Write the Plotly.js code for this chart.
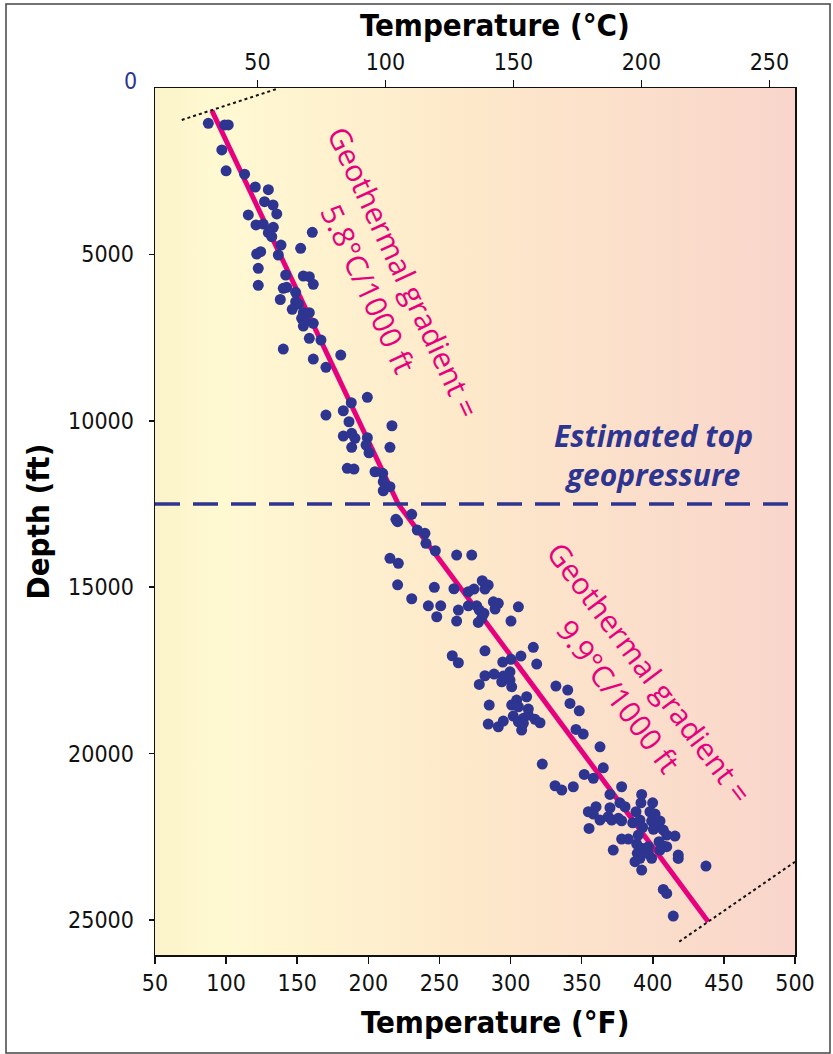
<!DOCTYPE html>
<html>
<head>
<meta charset="utf-8">
<script src="https://cdn.plot.ly/plotly-3.0.1.min.js"></script>
<style>html,body{margin:0;padding:0;background:#fff;}#chart{width:833px;height:1054px;}</style>
</head>
<body>
<div id="chart"></div>
<script>
// ---- data (temperature in °F, depth in ft) ----
const tempF = [
  87.5, 99, 101.5, 97, 100, 113, 120.5, 129.7, 127, 133, 115.6, 135.6, 121, 126.1, 133.2, 129.7, 132.1, 160.6,
  138.6, 152.4, 121.5, 124.3, 136.7, 122.6, 141.9, 154.3, 158.5, 161.3, 122.6, 140.2, 142.6, 148.9, 138.1, 148.9,
  150.8, 146.5, 154.3, 158.5, 153.1, 155.5, 154.3, 161.3, 158.5, 166.7, 140.2, 180.6, 161.3, 170.2, 199.3, 188.0,
  182.4, 170.2, 186.4, 216.6, 182.4, 188.3, 190.6, 199.3, 198.4, 188.3, 200.5, 215.2, 185.2, 189.9, 204.7, 210.1,
  210.5, 215.2, 210.5, 219.4, 230.5, 220.6, 234.4, 239.8, 240.5, 247.1, 262.1, 272.7, 215.2, 221.1, 220.6, 246.4,
  230.5, 260.2, 270.3, 274.3, 280.1, 284.3, 282.0, 242.2, 250.9, 263.3, 248.1, 262.1, 270.3, 276.2, 278.0, 281.3,
  279.7, 277.3, 287.9, 291.4, 289.1, 305.5, 300.3, 282.0, 259.0, 263.3, 316.0, 294.5, 300.3, 307.3, 318.4, 282.0,
  288.4, 294.9, 299.6, 293.8, 299.6, 278.0, 300.8, 331.9, 340.2, 341.8, 348.3, 311.3, 304.3, 300.8, 305.5, 285.0,
  312.5, 301.9, 309.0, 312.5, 305.5, 309.0, 317.2, 320.7, 284.3, 291.4, 294.9, 307.8, 346.0, 351.1, 362.9, 322.3,
  365.2, 351.8, 358.2, 331.3, 344.1, 378.1, 336.0, 369.9, 392.2, 376.9, 380.5, 391.7, 399.9, 360.1, 354.7, 358.2,
  369.9, 368.7, 362.9, 371.1, 375.8, 378.1, 388.2, 385.9, 391.0, 392.9, 398.0, 401.6, 399.2, 405.1, 402.7, 400.4,
  407.4, 409.8, 415.6, 355.2, 389.8, 378.1, 382.8, 404.4, 407.4, 372.2, 388.7, 392.2, 396.9, 389.1, 396.9, 399.2,
  391.0, 405.1, 409.8, 387.5, 417.9, 417.9, 392.2, 437.4, 407.4, 409.8, 414.4
];
const depthFt = [
  1060, 1110, 1110, 1860, 2490, 2590, 2975, 3055, 3415, 3515, 3815, 3785, 4115, 4087, 4186, 4348, 4468, 4336,
  4718, 4817, 4988, 4919, 5018, 5418, 5619, 5649, 5670, 5899, 5929, 6019, 5989, 6139, 6355, 6422,
  6491, 6650, 6752, 6752, 6920, 7023, 7152, 7071, 7521, 7573, 7843, 8023, 8144, 8393, 9294, 9457,
  9697, 9826, 10028, 10148, 10457, 10376, 10527, 10508, 10728, 10797, 10959, 10797, 11428, 11449, 11530, 11578,
  11830, 11980, 12101, 12961, 12810, 13032, 13282, 13381, 13682, 13904, 14033, 14033, 14132, 14283, 14926, 15004,
  15346, 15046, 15136, 15055, 14805, 14935, 15055, 15557, 15557, 15686, 15887, 16017, 15557, 15557, 15686, 15785,
  15935, 16056, 15437, 15485, 15656, 15587, 16017, 16909, 17059, 17269, 16807, 17249, 17167, 17068, 17308, 17660,
  17609, 17669, 17540, 17840, 17790, 17919, 17991, 17970, 18090, 18490, 18712, 18291, 18390, 18540, 18591, 18540,
  18660, 18870, 18940, 18840, 19042, 19090, 18970, 19072, 19111, 19192, 19021, 19291, 19271, 19412, 19794, 20314,
  20425, 20623, 20743, 20965, 20995, 20995, 21095, 21224, 21224, 21476, 21596, 21476, 21476, 21596, 21746, 21815,
  21626, 21896, 21995, 21995, 21944, 22016, 21746, 22077, 21995, 22215, 21746, 21815, 22026, 22026, 22215, 22275,
  22296, 22446, 22477, 22246, 22446, 22566, 22566, 22647, 22776, 22896, 22716, 22846, 22797, 22996, 22996, 23146,
  23146, 22896, 22797, 23247, 23048, 23148, 23498, 23378, 24079, 24199, 24881
];
// gradient lines
const upperGradF = [90, 221];
const upperGradD = [680, 12500];
const lowerGradF = [221, 439];
const lowerGradD = [12500, 25050];
// dotted end markers
const dotTopF = [68.8, 135.5];
const dotTopD = [960, 30];
const dotBotF = [418.6, 500];
const dotBotD = [25650, 23250];
// estimated top of geopressure
const geopressureDepth = 12500;
// axes
const xRangeF = [50, 500];
const yRangeFt = [26050, 0];
const xTicksF = [50, 100, 150, 200, 250, 300, 350, 400, 450, 500];
const xTicksC = [50, 100, 150, 200, 250];
const yTicks = [5000, 10000, 15000, 20000, 25000];
const yTickText = ['5000', '10000', '15000', '20000', '25000'];
const xRangeC = xRangeF.map(f => (f - 32) / 1.8);

const BLUE = '#2d3591';
const MAG = '#e6007e';
const TICKFONT = {family: '"DejaVu Sans Condensed", "Liberation Sans Narrow", "Open Sans", sans-serif', size: 23, color: '#111'};
const TITLEFONT = {family: '"DejaVu Sans Condensed", "Liberation Sans Narrow", "Open Sans", sans-serif', size: 31, color: '#000', weight: 'bold'};

const svg = "<svg xmlns='http://www.w3.org/2000/svg' width='640' height='867' preserveAspectRatio='none'>" +
  "<defs><linearGradient id='g' x1='0' x2='1' y1='0' y2='0'>" +
  "<stop offset='0' stop-color='#fbf3c9'/><stop offset='0.1' stop-color='#fff9d2'/>" +
  "<stop offset='0.5' stop-color='#fde8ca'/><stop offset='1' stop-color='#f9d5cb'/>" +
  "</linearGradient></defs><rect width='640' height='867' fill='url(#g)'/></svg>";

const traces = [
  {x: upperGradF, y: upperGradD, type: 'scatter', mode: 'lines', line: {color: MAG, width: 5}, hoverinfo: 'skip', showlegend: false},
  {x: lowerGradF, y: lowerGradD, type: 'scatter', mode: 'lines', line: {color: MAG, width: 5}, hoverinfo: 'skip', showlegend: false},
  {x: dotTopF, y: dotTopD, type: 'scatter', mode: 'lines', line: {color: '#111', width: 2, dash: 'dot'}, hoverinfo: 'skip', showlegend: false},
  {x: dotBotF, y: dotBotD, type: 'scatter', mode: 'lines', line: {color: '#111', width: 2, dash: 'dot'}, hoverinfo: 'skip', showlegend: false},
  {x: xRangeF, y: [geopressureDepth, geopressureDepth], type: 'scatter', mode: 'lines', line: {color: BLUE, width: 3.5, dash: '25px,13px'}, hoverinfo: 'skip', showlegend: false},
  {x: tempF, y: depthFt, type: 'scatter', mode: 'markers', marker: {color: BLUE, size: 11}, showlegend: false},
  {x: xRangeC, y: [0, 0], xaxis: 'x2', type: 'scatter', mode: 'markers', marker: {opacity: 0}, hoverinfo: 'skip', showlegend: false}
];

const layout = {
  width: 833, height: 1054,
  margin: {l: 155, r: 38, t: 88, b: 99},
  paper_bgcolor: '#ffffff',
  plot_bgcolor: 'rgba(0,0,0,0)',
  showlegend: false,
  xaxis: {
    range: xRangeF, tickvals: xTicksF, ticks: 'outside', ticklen: 7, tickwidth: 1.5, tickcolor: '#111',
    showline: true, linecolor: '#111', linewidth: 1.5, mirror: true, showgrid: false, zeroline: false,
    tickfont: TICKFONT
  },
  xaxis2: {
    overlaying: 'x', side: 'top', range: xRangeC, tickvals: xTicksC, ticks: 'outside', ticklen: 7, tickwidth: 1.5,
    tickcolor: '#111', showline: true, linecolor: '#111', linewidth: 1.5, showgrid: false, zeroline: false,
    tickfont: TICKFONT
  },
  yaxis: {
    range: yRangeFt, tickvals: yTicks, ticktext: yTickText, ticks: 'outside', ticklen: 5, tickwidth: 1.5, tickcolor: '#111',
    showline: true, linecolor: '#111', linewidth: 1.5, mirror: true, showgrid: false, zeroline: false,
    tickfont: TICKFONT, ticklabelstandoff: 10
  },
  images: [{
    source: 'data:image/svg+xml;charset=utf-8,' + encodeURIComponent(svg),
    xref: 'paper', yref: 'paper', x: 0, y: 1, sizex: 1, sizey: 1,
    xanchor: 'left', yanchor: 'top', sizing: 'stretch', layer: 'below'
  }],
  shapes: [{
    type: 'rect', xref: 'paper', yref: 'paper',
    x0: (6 - 155) / 640, x1: (830 - 155) / 640, y0: (955 - 1053) / 867, y1: (955 - 4) / 867,
    line: {color: '#444', width: 1.5}, fillcolor: 'rgba(0,0,0,0)', layer: 'below'
  }],
  annotations: [
    {text: 'Temperature (°C)', xref: 'paper', yref: 'paper', x: (495 - 155) / 640, y: (955 - 25) / 867,
     xanchor: 'center', yanchor: 'middle', showarrow: false, font: TITLEFONT},
    {text: 'Temperature (°F)', xref: 'paper', yref: 'paper', x: (495 - 155) / 640, y: (955 - 1022) / 867,
     xanchor: 'center', yanchor: 'middle', showarrow: false, font: TITLEFONT},
    {text: 'Depth (ft)', xref: 'paper', yref: 'paper', x: (37 - 155) / 640, y: 0.5, textangle: -90,
     xanchor: 'center', yanchor: 'middle', showarrow: false, font: TITLEFONT},
    {text: '0', xref: 'paper', yref: 'paper', x: (130 - 155) / 640, y: (955 - 81) / 867,
     xanchor: 'center', yanchor: 'middle', showarrow: false, font: Object.assign({}, TICKFONT, {color: BLUE})},
    {text: 'Geothermal gradient =<br>5.8°C/1000 ft', xref: 'paper', yref: 'paper',
     x: (386 - 155) / 640, y: (955 - 280) / 867, textangle: 65, xanchor: 'center', yanchor: 'middle',
     showarrow: false, font: {family: '"Open Sans", sans-serif', size: 30, color: MAG}},
    {text: 'Geothermal gradient =<br>9.9°C/1000 ft', xref: 'paper', yref: 'paper',
     x: (634 - 155) / 640, y: (955 - 684) / 867, textangle: 53, xanchor: 'center', yanchor: 'middle',
     showarrow: false, font: {family: '"Open Sans", sans-serif', size: 30, color: MAG}},
    {text: '<i>Estimated top<br>geopressure</i>', xref: 'paper', yref: 'paper',
     x: (653 - 155) / 640, y: (955 - 455) / 867, xanchor: 'center', yanchor: 'middle',
     showarrow: false, font: {family: '"Open Sans", sans-serif', size: 30, color: BLUE, weight: 'bold'}}
  ]
};

Plotly.newPlot('chart', traces, layout, {staticPlot: true, displayModeBar: false});
</script>
</body>
</html>
